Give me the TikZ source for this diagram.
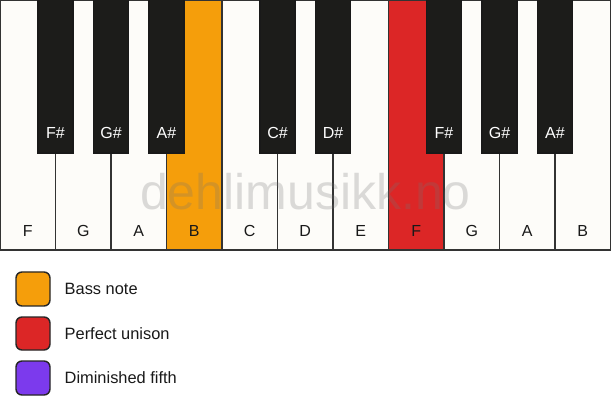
\documentclass[tikz,border=0pt]{standalone}
\usepackage{fontspec}
\setmainfont{Liberation Sans}
\usetikzlibrary{calc}
\definecolor{whitekey}{RGB}{253,252,249}
\definecolor{blackkey}{RGB}{28,28,26}
\definecolor{bassorange}{RGB}{245,158,11}
\definecolor{unisonred}{RGB}{220,38,38}
\definecolor{fifthpurple}{RGB}{124,58,237}
\tikzset{
	whitebox/.style={draw=black!80, line width=1.2pt, fill=whitekey},
	blackbox/.style={draw=black!90, line width=0.8pt, fill=blackkey},
	legendbox/.style={draw=black!85, line width=1.1pt, rounded corners=4.5pt},
	keylabel/.style={font=\fontsize{12}{14}\selectfont, text=black!90},
	sharplabel/.style={font=\fontsize{12}{14}\selectfont, text=white},
	legendlabel/.style={font=\fontsize{12.3}{14}\selectfont, text=black!90, anchor=west}
}

\begin{document}
\begin{tikzpicture}[x=0.75pt,y=-0.75pt]
		%%%%% START %%%%%
		\useasboundingbox[fill=white] (0, 0) rectangle (611, 417);
		
		% white keys
		\draw[whitebox] (0, 0) rectangle (55.5, 250);
		\draw[whitebox] (55.5, 0) rectangle (111, 250);
		\draw[whitebox] (111, 0) rectangle (166.5, 250);
		\draw[whitebox, fill=bassorange] (166.5, 0) rectangle (222, 250);
		\draw[whitebox] (222, 0) rectangle (277.5, 250);
		\draw[whitebox] (277.5, 0) rectangle (333, 250);
		\draw[whitebox] (333, 0) rectangle (388.5, 250);
		\draw[whitebox, fill=unisonred] (388.5, 0) rectangle (444, 250);
		\draw[whitebox] (444, 0) rectangle (499.5, 250);
		\draw[whitebox] (499.5, 0) rectangle (555, 250);
		\draw[whitebox] (555, 0) rectangle (610.5, 250);
		
		\node[keylabel] (keyF) at (27.75, 231) {F};
		\node[keylabel] (keyG) at (83.25, 231) {G};
		\node[keylabel] (keyA) at (138.75, 231) {A};
		\node[keylabel] (keyB) at (194.25, 231) {B};
		\node[keylabel] (keyC) at (249.75, 231) {C};
		\node[keylabel] (keyD) at (305.25, 231) {D};
		\node[keylabel] (keyE) at (360.75, 231) {E};
		\node[keylabel] (keyFF) at (416.25, 231) {F};
		\node[keylabel] (keyGG) at (471.75, 231) {G};
		\node[keylabel] (keyAA) at (527.25, 231) {A};
		\node[keylabel] (keyBB) at (582.75, 231) {B};
		
		% black keys
		\draw[blackbox] (38, -2) rectangle (73, 153);
		\draw[blackbox] (93.5, -2) rectangle (128.5, 153);
		\draw[blackbox] (149, -2) rectangle (184, 153);
		\draw[blackbox] (260, -2) rectangle (295, 153);
		\draw[blackbox] (315.5, -2) rectangle (350.5, 153);
		\draw[blackbox] (426.5, -2) rectangle (461.5, 153);
		\draw[blackbox] (482, -2) rectangle (517, 153);
		\draw[blackbox] (537.5, -2) rectangle (572.5, 153);
		
		\node[sharplabel] (keyFs) at (55.5, 133) {F\#};
		\node[sharplabel] (keyGs) at (111, 133) {G\#};
		\node[sharplabel] (keyAs) at (166.5, 133) {A\#};
		\node[sharplabel] (keyCs) at (277.5, 133) {C\#};
		\node[sharplabel] (keyDs) at (333, 133) {D\#};
		\node[sharplabel] (keyFFs) at (444, 133) {F\#};
		\node[sharplabel] (keyGGs) at (499.5, 133) {G\#};
		\node[sharplabel] (keyAAs) at (555, 133) {A\#};
		
		% watermark
		\node[font=\fontsize{37.5}{40}\selectfont, text=black!55, opacity=0.25] (mark) at (305.5, 192) {dehlimusikk.no};
		
		% legend
		\draw[legendbox, fill=bassorange] (16, 272) rectangle (50, 306);
		\node[legendlabel] (bass) at (60, 289) {Bass note};
		\draw[legendbox, fill=unisonred] (16, 317) rectangle (50, 350);
		\node[legendlabel] (unison) at (60, 333.5) {Perfect unison};
		\draw[legendbox, fill=fifthpurple] (16, 361) rectangle (50, 395);
		\node[legendlabel] (fifth) at (60, 378) {Diminished fifth};
		%%%%% END %%%%%
	\end{tikzpicture}
\end{document}
